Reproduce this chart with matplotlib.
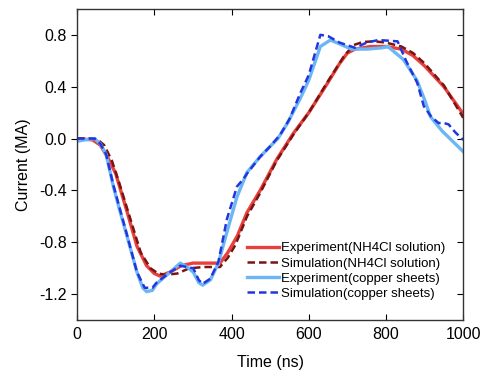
import numpy as np
import matplotlib.pyplot as plt

plt.rcParams['font.family'] = ['Liberation Sans', 'DejaVu Sans']

# Experiment (NH4Cl solution)
t_exp_nh4 = [0, 40, 60, 80, 100, 130, 155, 180, 200, 215, 240, 270, 300, 340, 370,
             390, 415, 440, 474, 517, 560, 600, 647, 680, 700, 720, 760, 800, 840,
             870, 900, 950, 1000]
i_exp_nh4 = [0, -0.01, -0.05, -0.15, -0.27, -0.57, -0.83, -0.98, -1.04, -1.06, -1.03,
             -0.98, -0.96, -0.96, -0.96, -0.88, -0.75, -0.57, -0.40, -0.16, 0.04, 0.2,
             0.42, 0.58, 0.66, 0.69, 0.71, 0.71, 0.69, 0.64, 0.56, 0.40, 0.19]

# Simulation (NH4Cl solution)
t_sim_nh4 = [0, 50, 70, 90, 110, 140, 165, 190, 210, 230, 260, 290, 330, 370, 390,
             410, 440, 474, 517, 560, 600, 647, 690, 715, 740, 770, 800, 840, 870,
             900, 950, 1000]
i_sim_nh4 = [0, 0, -0.05, -0.17, -0.35, -0.64, -0.88, -1.0, -1.04, -1.05, -1.04, -1.0,
             -0.99, -0.99, -0.92, -0.82, -0.6, -0.42, -0.17, 0.03, 0.2, 0.43, 0.63,
             0.72, 0.745, 0.75, 0.74, 0.71, 0.66, 0.58, 0.41, 0.16]

# Experiment (copper sheets)
t_exp_cu = [0, 20, 45, 60, 75, 94, 110, 129, 155, 170, 180, 195, 206, 225, 241, 267,
            285, 301, 315, 325, 345, 366, 388, 414, 440, 474, 500, 520, 545, 578, 600,
            630, 656, 680, 710, 750, 790, 805, 845, 880, 900, 915, 945, 1000]
i_exp_cu = [-0.02, -0.01, 0.0, -0.04, -0.12, -0.37, -0.55, -0.75, -1.03, -1.15, -1.18,
            -1.17, -1.12, -1.07, -1.03, -0.96, -0.99, -1.03, -1.11, -1.13, -1.09, -0.96,
            -0.72, -0.45, -0.26, -0.14, -0.06, 0.0, 0.12, 0.31, 0.45, 0.71, 0.76, 0.73,
            0.69, 0.69, 0.70, 0.71, 0.61, 0.45, 0.30, 0.17, 0.06, -0.10]

# Simulation (copper sheets)
t_sim_cu = [0, 45, 60, 75, 94, 129, 155, 175, 195, 206, 241, 267, 301, 315, 325, 345,
            366, 388, 414, 431, 440, 474, 500, 526, 550, 578, 600, 630, 650, 680, 720,
            750, 780, 830, 852, 881, 898, 917, 936, 950, 962, 979, 1000]
i_sim_cu = [0.0, 0.0, -0.04, -0.12, -0.36, -0.74, -1.03, -1.15, -1.15, -1.11, -1.03,
            -0.98, -1.0, -1.09, -1.12, -1.08, -0.95, -0.62, -0.37, -0.31, -0.27, -0.14,
            -0.06, 0.03, 0.15, 0.35, 0.49, 0.80, 0.79, 0.74, 0.70, 0.74, 0.76, 0.75,
            0.60, 0.43, 0.25, 0.17, 0.12, 0.12, 0.11, 0.05, -0.01]

fig = plt.figure(figsize=(4.82, 3.71), dpi=100)
ax = fig.add_axes([0.16, 0.137, 0.801, 0.839])

ax.plot(t_exp_nh4, i_exp_nh4, color='#e8403a', lw=2.4, label='Experiment(NH4Cl solution)')
ax.plot(t_sim_nh4, i_sim_nh4, color='#7a1414', lw=1.8, ls=(0, (3, 1.6)),
        label='Simulation(NH4Cl solution)')
ax.plot(t_exp_cu, i_exp_cu, color='#6cb6f5', lw=2.4, label='Experiment(copper sheets)')
ax.plot(t_sim_cu, i_sim_cu, color='#2236e0', lw=1.8, ls=(0, (3, 1.6)),
        label='Simulation(copper sheets)')

ax.set_xlim(0, 1000)
ax.set_ylim(-1.4, 1.0)
ax.set_xticks([0, 200, 400, 600, 800, 1000])
ax.set_yticks([-1.2, -0.8, -0.4, 0.0, 0.4, 0.8])
ax.set_yticklabels(['-1.2', '-0.8', '-0.4', '0.0', '0.4', '0.8'])
ax.tick_params(axis='x', direction='in', top=True, labelsize=11.5, length=4, pad=5)
ax.tick_params(axis='y', direction='out', labelsize=11.5, length=4)
ax.tick_params(axis='y', which='both', right=True)
for tk in ax.yaxis.get_major_ticks():
    tk.tick2line.set_marker(0)
for s in ax.spines.values():
    s.set_color('#333333')
    s.set_linewidth(1.0)

ax.set_xlabel('Time (ns)', fontsize=11.5, labelpad=9)
ax.set_ylabel('Current (MA)', fontsize=11.5, labelpad=6)

ax.legend(loc='lower right', bbox_to_anchor=(0.975, 0.04), frameon=False, fontsize=9.5,
          handlelength=2.4, handletextpad=0.2, labelspacing=0.22, borderaxespad=0.2)

fig.savefig('out.png', dpi=100)
